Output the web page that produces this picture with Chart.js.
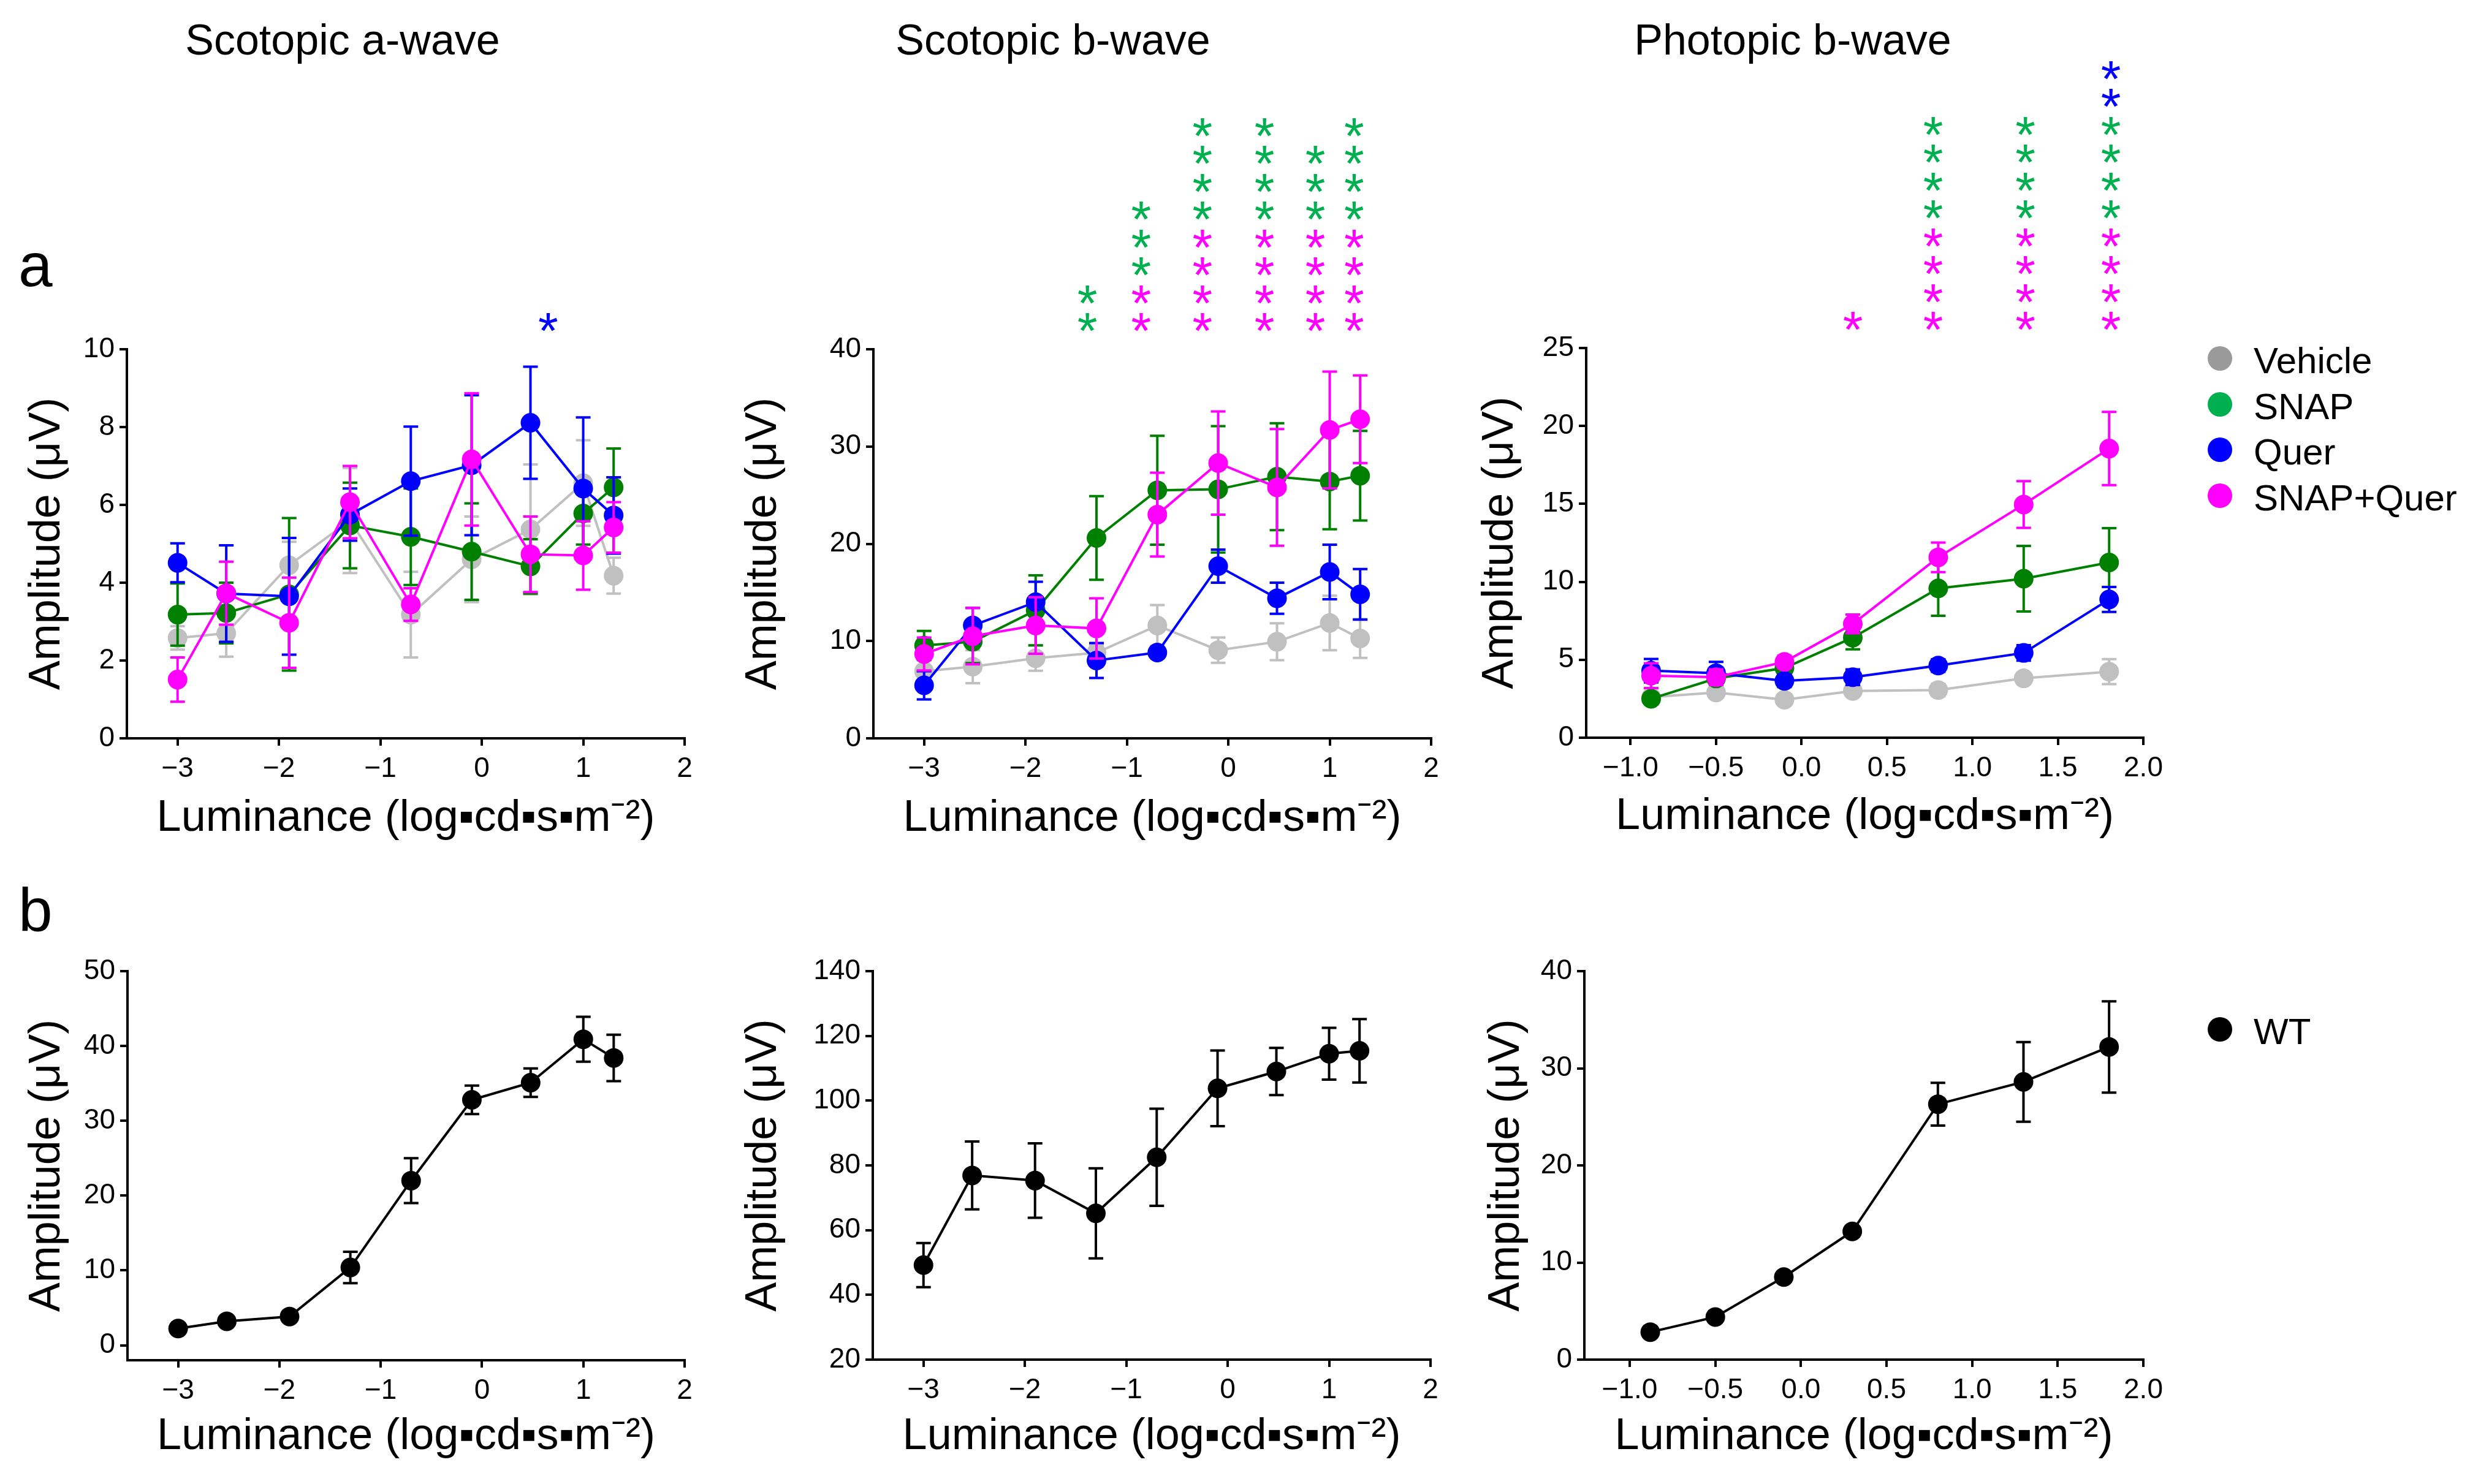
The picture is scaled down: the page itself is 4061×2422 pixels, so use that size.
<!DOCTYPE html>
<html>
<head>
<meta charset="utf-8">
<script src="https://cdn.jsdelivr.net/npm/chart.js@4.4.1/dist/chart.umd.min.js"></script>
<style>
body{margin:0;background:#fff;width:4061px;height:2422px;position:relative;overflow:hidden;font-family:"Liberation Sans",Arial,sans-serif;color:#000}
canvas{position:absolute}
.ttl{position:absolute;transform:translate(-50%,-50%);white-space:nowrap;font-size:70px;line-height:1}
.lab{position:absolute;font-size:100px;line-height:1}
.leg{position:absolute;font-size:60px;line-height:1;white-space:nowrap;transform:translateY(-50%)}
.dot{position:absolute;width:40px;height:40px;border-radius:50%;transform:translate(-50%,-50%)}
</style>
</head>
<body>
<div class="ttl" style="left:559px;top:65px">Scotopic a-wave</div>
<div class="ttl" style="left:1718px;top:65px">Scotopic b-wave</div>
<div class="ttl" style="left:2925px;top:65px">Photopic b-wave</div>
<div class="lab" style="left:30px;top:382px">a</div>
<div class="lab" style="left:30px;top:1435px">b</div>
<script>
// luminance steps (log cd s m^-2)
const lumScot = [-3, -2.52, -1.9, -1.3, -0.7, -0.1, 0.48, 1, 1.3];
const lumPhot = [-0.88, -0.5, -0.1, 0.3, 0.8, 1.3, 1.8];

// tick labels
const ticksScotX = [-3, -2, -1, 0, 1, 2];
const ticksPhotX = [-1, -0.5, 0, 0.5, 1, 1.5, 2];
const ticksA1Y = [0, 2, 4, 6, 8, 10];
const ticksA2Y = [0, 10, 20, 30, 40];
const ticksA3Y = [0, 5, 10, 15, 20, 25];
const ticksB1Y = [0, 10, 20, 30, 40, 50];
const ticksB2Y = [20, 40, 60, 80, 100, 120, 140];
const ticksB3Y = [0, 10, 20, 30, 40];

// groups
const groups = ['Vehicle', 'SNAP', 'Quer', 'SNAP+Quer'];

// scotopic a-wave
const aVeh = [2.58, 2.7, 4.45, 5.6, 3.18, 4.6, 5.37, 6.56, 4.18];
const aVehErr = [0.3, 0.6, 0.6, 1.35, 1.1, 1.1, 1.67, 1.1, 0.46];
const aSnap = [3.18, 3.22, 3.7, 5.47, 5.18, 4.8, 4.42, 5.78, 6.45];
const aSnapErr = [0.8, 0.78, 1.96, 1.1, 1.24, 1.24, 0.7, 0.8, 1.0];
const aQuer = [4.51, 3.72, 3.65, 5.75, 6.61, 7.02, 8.11, 6.42, 5.73];
const aQuerErr = [0.5, 1.24, 1.5, 0.67, 1.4, 1.8, 1.44, 1.83, 0.98];
const aBoth = [1.51, 3.73, 2.97, 6.07, 3.44, 7.17, 4.73, 4.7, 5.42];
const aBothErr = [0.57, 0.81, 1.16, 0.93, 0.42, 1.7, 0.97, 0.88, 0.65];

// scotopic b-wave
const bVeh = [6.9, 7.37, 8.24, 8.8, 11.6, 9.06, 9.93, 11.86, 10.27];
const bVehErr = [0.5, 1.7, 1.3, 0.8, 2.1, 1.3, 1.9, 2.8, 2.0];
const bSnap = [9.54, 9.93, 13.16, 20.6, 25.5, 25.6, 26.9, 26.4, 27.0];
const bSnapErr = [1.5, 2.2, 3.6, 4.3, 5.6, 6.5, 5.5, 4.9, 4.6];
const bQuer = [5.45, 11.6, 14.0, 8.0, 8.82, 17.7, 14.4, 17.1, 14.8];
const bQuerErr = [1.45, 1.8, 2.1, 1.8, 0.5, 1.7, 1.6, 2.8, 2.6];
const bBoth = [8.67, 10.5, 11.6, 11.3, 23.0, 28.3, 25.8, 31.7, 32.8];
const bBothErr = [1.7, 2.9, 2.9, 3.1, 4.3, 5.3, 6.0, 6.0, 4.5];

// photopic b-wave
const pVeh = [2.6, 2.9, 2.44, 3.0, 3.06, 3.81, 4.24];
const pVehErr = [0.3, 0.3, 0.3, 0.3, 0.4, 0.3, 0.8];
const pSnap = [2.5, 3.8, 4.47, 6.42, 9.58, 10.2, 11.24];
const pSnapErr = [0.3, 0.3, 0.3, 0.75, 1.76, 2.1, 2.2];
const pQuer = [4.3, 4.14, 3.65, 3.88, 4.63, 5.44, 8.87];
const pQuerErr = [0.75, 0.72, 0.4, 0.5, 0.4, 0.5, 0.8];
const pBoth = [3.98, 3.88, 4.86, 7.3, 11.57, 14.96, 18.55];
const pBothErr = [0.8, 0.5, 0.4, 0.6, 0.95, 1.5, 2.35];

// WT
const wtA = [2.24, 3.2, 3.84, 10.4, 22.0, 32.8, 35.1, 40.9, 38.4];
const wtAErr = [0.3, 0.3, 0.4, 2.1, 3.0, 1.9, 1.9, 3.0, 3.1];
const wtB = [49.2, 76.9, 75.3, 65.2, 82.5, 103.8, 109.0, 114.5, 115.4];
const wtBErr = [6.8, 10.5, 11.5, 13.9, 15.0, 11.7, 7.3, 8.0, 9.8];
const wtP = [2.83, 4.39, 8.5, 13.2, 26.3, 28.6, 32.2];
const wtPErr = [0.3, 0.3, 0.3, 0.3, 2.2, 4.1, 4.7];

// significance stars: x position and count per group (stacked bottom up: SNAP+Quer, SNAP, Quer)
const starsAX = [0.655];
const starsABoth = [0], starsASnap = [0], starsAQuer = [1];
const starsBX = [-1.39, -0.86, -0.255, 0.357, 0.858, 1.24];
const starsBBoth = [0, 2, 4, 4, 4, 4];
const starsBSnap = [2, 3, 4, 4, 3, 4];
const starsBQuer = [0, 0, 0, 0, 0, 0];
const starsPX = [0.3, 0.77, 1.31, 1.81];
const starsPBoth = [1, 4, 4, 4];
const starsPSnap = [0, 4, 4, 4];
const starsPQuer = [0, 0, 0, 2];

// colori
const GRAY = '#c0c0c0', GREEN = '#008000', BLUE = '#0000ff', MAG = '#ff00ff';
const STAR_GREEN = '#00b050';
const legendColors = ['#9a9a9a', '#00b050', '#0000ff', '#ff00ff'];

const FONT = '"Liberation Sans", Arial, sans-serif';
const TITLE = 72, TICK = 46, LH = 1.2;

function fmt(v, dec) {
    const s = Math.abs(v).toFixed(dec);
    return (v < -1e-9 ? '\u2212' : '') + s;
}

// barre d'errore disegnate sotto ogni serie
const errorBars = {
    id: 'errorBars',
    beforeDatasetDraw(chart, args) {
        const ds = chart.data.datasets[args.index];
        if (!ds.err) return;
        const ctx = chart.ctx, xs = chart.scales.x, ys = chart.scales.y;
        ctx.save();
        ctx.strokeStyle = ds.borderColor;
        ctx.lineWidth = 4;
        ds.data.forEach((p, i) => {
            const e = ds.err[i];
            if (!e) return;
            const px = xs.getPixelForValue(p.x);
            const y1 = ys.getPixelForValue(p.y - e), y2 = ys.getPixelForValue(p.y + e);
            ctx.beginPath();
            ctx.moveTo(px, y1); ctx.lineTo(px, y2);
            ctx.moveTo(px - 12, y1); ctx.lineTo(px + 12, y1);
            ctx.moveTo(px - 12, y2); ctx.lineTo(px + 12, y2);
            ctx.stroke();
        });
        ctx.restore();
    }
};

function makeStars(st) {
    return {
        id: 'stars',
        afterDraw(chart) {
            if (!st) return;
            const ctx = chart.ctx, xs = chart.scales.x, top = chart.chartArea.top;
            ctx.save();
            ctx.font = '84px ' + FONT;
            ctx.textAlign = 'center';
            ctx.textBaseline = 'alphabetic';
            st.x.forEach((xv, i) => {
                const px = xs.getPixelForValue(xv);
                let row = 0;
                st.groups.forEach(g => {
                    ctx.fillStyle = g.color;
                    for (let k = 0; k < g.n[i]; k++, row++) {
                        ctx.fillText('*', px, top - 49 - row * 45.5 + 48);
                    }
                });
            });
            ctx.restore();
        }
    };
}

function makeChart(p) {
    const c = document.createElement('canvas');
    c.width = p.box.w; c.height = p.box.h;
    c.style.left = p.box.x + 'px'; c.style.top = p.box.y + 'px';
    c.style.width = p.box.w + 'px'; c.style.height = p.box.h + 'px';
    document.body.appendChild(c);
    const wY = p.area.l - p.box.x;
    const hX = p.box.y + p.box.h - p.area.b;
    const half = TITLE * LH / 2;
    const axisCommon = {
        grid: {drawOnChartArea: false, color: '#000', lineWidth: 4, tickLength: 12, tickColor: '#000', tickWidth: 4},
        border: {display: true, color: '#000', width: 4}
    };
    return new Chart(c, {
        type: 'scatter',
        data: {
            datasets: p.sets.map(s => ({
                label: s.label,
                data: p.x.map((x, j) => ({x: x, y: s.y[j]})),
                err: s.err,
                showLine: true,
                borderColor: s.color,
                backgroundColor: s.color,
                borderWidth: 4,
                pointRadius: 16,
                pointHoverRadius: 16,
                pointBorderWidth: 0,
                order: s.order,
                clip: false
            }))
        },
        options: {
            responsive: false,
            animation: false,
            events: [],
            devicePixelRatio: 1,
            layout: {padding: {left: 0, top: p.area.t - p.box.y, right: p.box.x + p.box.w - p.area.r, bottom: 0}},
            plugins: {legend: {display: false}, tooltip: {enabled: false}},
            scales: {
                x: Object.assign({}, axisCommon, {
                    type: 'linear', min: p.xr[0], max: p.xr[1],
                    afterBuildTicks: s => { s.ticks = p.xt.map(v => ({value: v})); },
                    afterFit: s => { s.height = hX; s.paddingLeft = 0; s.paddingRight = 0; },
                    ticks: {autoSkip: false, maxRotation: 0, padding: 11, color: '#000',
                        font: {family: FONT, size: TICK}, callback: v => fmt(v, p.dec)},
                    title: {display: true, text: 'Luminance (log\u25AAcd\u25AAs\u25AAm\u207B\u00B2)', color: '#000',
                        font: {family: FONT, size: TITLE, lineHeight: LH},
                        padding: {top: 0, bottom: (p.box.y + p.box.h - p.xTitleY) - half}}
                }),
                y: Object.assign({}, axisCommon, {
                    type: 'linear', min: p.yr[0], max: p.yr[1],
                    afterBuildTicks: s => { s.ticks = p.yt.map(v => ({value: v})); },
                    afterFit: s => { s.width = wY; s.paddingTop = 0; s.paddingBottom = 0; },
                    ticks: {autoSkip: false, padding: 8, color: '#000',
                        font: {family: FONT, size: TICK}, callback: v => fmt(v, 0)},
                    title: {display: true, text: 'Amplitude (\u03BCV)', color: '#000',
                        font: {family: FONT, size: TITLE, lineHeight: LH},
                        padding: {top: (p.yTitleX - p.box.x) - half, bottom: 0}}
                })
            }
        },
        plugins: [errorBars, makeStars(p.stars)]
    });
}

function four(v, ve, s, se, q, qe, b, be) {
    return [
        {label: groups[0], y: v, err: ve, color: GRAY, order: 4},
        {label: groups[1], y: s, err: se, color: GREEN, order: 3},
        {label: groups[2], y: q, err: qe, color: BLUE, order: 2},
        {label: groups[3], y: b, err: be, color: MAG, order: 1}
    ];
}
function starGroups(both, snap, quer) {
    return [{color: MAG, n: both}, {color: STAR_GREEN, n: snap}, {color: BLUE, n: quer}];
}

makeChart({
    box: {x: 0, y: 80, w: 1190, h: 1320}, area: {l: 207, r: 1117, t: 570, b: 1205},
    xr: [-3.5, 2], yr: [0, 10], xt: ticksScotX, yt: ticksA1Y, dec: 0,
    yTitleX: 77, xTitleY: 1336, x: lumScot,
    sets: four(aVeh, aVehErr, aSnap, aSnapErr, aQuer, aQuerErr, aBoth, aBothErr),
    stars: {x: starsAX, groups: starGroups(starsABoth, starsASnap, starsAQuer)}
});
makeChart({
    box: {x: 1190, y: 80, w: 1200, h: 1320}, area: {l: 1425, r: 2335, t: 570, b: 1205},
    xr: [-3.5, 2], yr: [0, 40], xt: ticksScotX, yt: ticksA2Y, dec: 0,
    yTitleX: 1246, xTitleY: 1336, x: lumScot,
    sets: four(bVeh, bVehErr, bSnap, bSnapErr, bQuer, bQuerErr, bBoth, bBothErr),
    stars: {x: starsBX, groups: starGroups(starsBBoth, starsBSnap, starsBQuer)}
});
makeChart({
    box: {x: 2390, y: 80, w: 1200, h: 1320}, area: {l: 2588, r: 3497, t: 568, b: 1204},
    xr: [-1.26, 2], yr: [0, 25], xt: ticksPhotX, yt: ticksA3Y, dec: 1,
    yTitleX: 2448, xTitleY: 1333, x: lumPhot,
    sets: four(pVeh, pVehErr, pSnap, pSnapErr, pQuer, pQuerErr, pBoth, pBothErr),
    stars: {x: starsPX, groups: starGroups(starsPBoth, starsPSnap, starsPQuer)}
});
makeChart({
    box: {x: 0, y: 1430, w: 1190, h: 992}, area: {l: 208, r: 1117, t: 1585, b: 2220},
    xr: [-3.5, 2], yr: [-2, 50], xt: ticksScotX, yt: ticksB1Y, dec: 0,
    yTitleX: 77, xTitleY: 2345, x: lumScot,
    sets: [{label: 'WT', y: wtA, err: wtAErr, color: '#000', order: 1}]
});
makeChart({
    box: {x: 1190, y: 1430, w: 1200, h: 992}, area: {l: 1424, r: 2334, t: 1585, b: 2219},
    xr: [-3.5, 2], yr: [20, 140], xt: ticksScotX, yt: ticksB2Y, dec: 0,
    yTitleX: 1246, xTitleY: 2345, x: lumScot,
    sets: [{label: 'WT', y: wtB, err: wtBErr, color: '#000', order: 1}]
});
makeChart({
    box: {x: 2390, y: 1430, w: 1200, h: 992}, area: {l: 2585, r: 3497, t: 1585, b: 2219},
    xr: [-1.265, 2], yr: [0, 40], xt: ticksPhotX, yt: ticksB3Y, dec: 1,
    yTitleX: 2458, xTitleY: 2345, x: lumPhot,
    sets: [{label: 'WT', y: wtP, err: wtPErr, color: '#000', order: 1}]
});

// legende
function legendRow(label, color, y) {
    const d = document.createElement('div');
    d.className = 'dot';
    d.style.left = '3622px'; d.style.top = y + 'px'; d.style.background = color;
    document.body.appendChild(d);
    const t = document.createElement('div');
    t.className = 'leg';
    t.style.left = '3677px'; t.style.top = (y + 4) + 'px';
    t.textContent = label;
    document.body.appendChild(t);
}
groups.forEach((g, i) => legendRow(g, legendColors[i], 585 + i * 74.7));
legendRow('WT', '#000', 1680);
</script>
</body>
</html>
